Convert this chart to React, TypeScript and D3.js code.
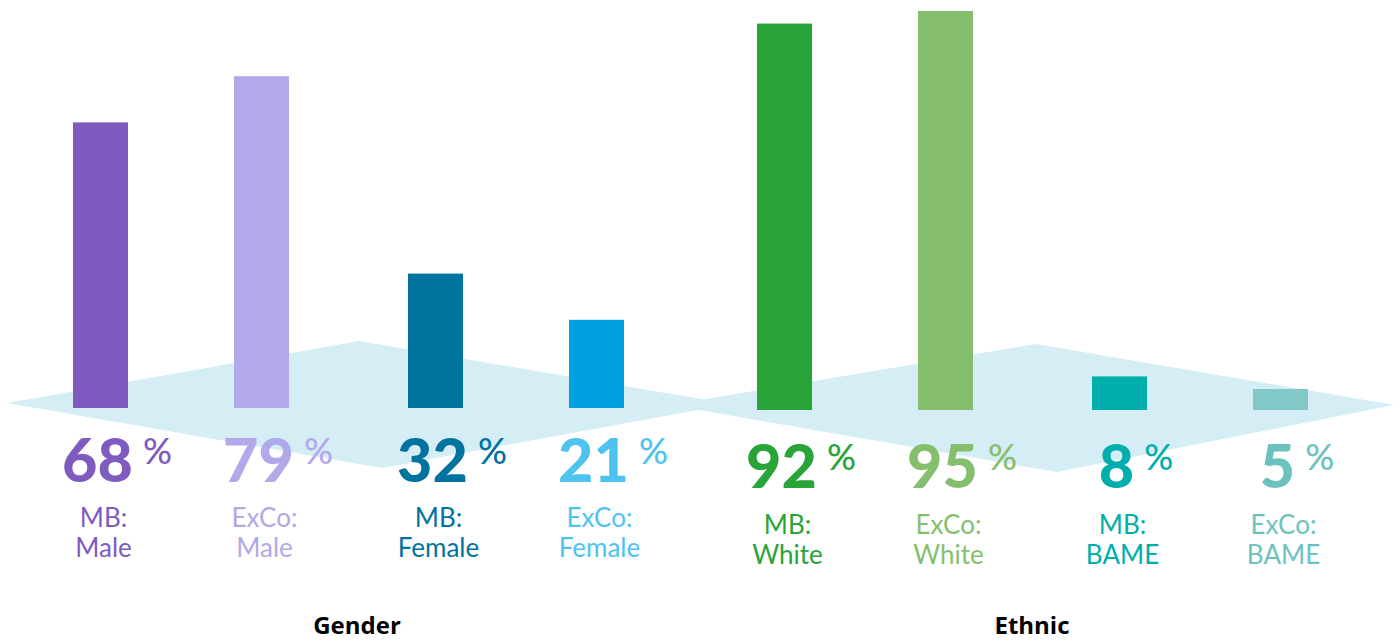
import { useEffect, useRef } from "react";
import * as d3 from "d3";

const groups = ["Gender", "Ethnic"];
const roles = ["MB", "ExCo", "MB", "ExCo", "MB", "ExCo", "MB", "ExCo"];
const subjects = ["Male", "Male", "Female", "Female", "White", "White", "BAME", "BAME"];
const barGroups = ["Gender", "Gender", "Gender", "Gender", "Ethnic", "Ethnic", "Ethnic", "Ethnic"];
const values = [68, 79, 32, 21, 92, 95, 8, 5];
const barColors = ["#805bbf", "#b1a9ea", "#00739f", "#00a1e1", "#28a438", "#85bf6e", "#00aeac", "#82c8c6"];
const textColors = ["#805bbf", "#b1a9ea", "#00739f", "#4ec3ef", "#28a438", "#85bf6e", "#00aeac", "#6cc3be"];

const W = 1400;
const H = 641;

export default function App() {
  const svgRef = useRef<SVGSVGElement>(null);

  useEffect(() => {
    if (!svgRef.current) return;
    const svg = d3.select(svgRef.current);
    svg.selectAll("*").remove();

    const baseline: Record<string, number> = { Gender: 408, Ethnic: 410 };
    const numBase: Record<string, number> = { Gender: 482, Ethnic: 488 };
    const labelBase: Record<string, number> = { Gender: 527, Ethnic: 534 };

    // nested band scales: group -> pair -> role
    const xGroup = d3.scaleBand<string>().domain(groups).range([73, 73 + 684 * 2]);
    const xPair = d3.scaleBand<string>().domain(["a", "b"]).range([0, 670]);
    const xRole = d3.scaleBand<string>().domain(["MB", "ExCo"]).range([0, 322]);
    const barW = 55;

    const yFor = (g: string) =>
      d3.scaleLinear().domain([0, 100]).range([baseline[g], baseline[g] - 420]);

    const data = values.map((v, i) => ({
      v,
      role: roles[i],
      subject: subjects[i],
      group: barGroups[i],
      x:
        (xGroup(barGroups[i]) || 0) +
        (xPair(i % 4 < 2 ? "a" : "b") || 0) +
        (xRole(roles[i]) || 0),
      bar: barColors[i],
      text: textColors[i],
    }));

    // background diamonds
    const diamonds: [number, number][][] = [
      [[7, 403], [359, 341], [730, 404], [382, 468]],
      [[670, 405], [1036, 344], [1394, 405], [1057, 472]],
    ];
    svg
      .append("g")
      .selectAll("path")
      .data(diamonds)
      .join("path")
      .attr("d", (d) => d3.line()(d) + "Z")
      .attr("fill", "#d5edf5");

    // bars
    svg
      .append("g")
      .selectAll("rect")
      .data(data)
      .join("rect")
      .attr("x", (d) => d.x)
      .attr("width", barW)
      .attr("y", (d) => yFor(d.group)(d.v))
      .attr("height", (d) => baseline[d.group] - yFor(d.group)(d.v))
      .attr("fill", (d) => d.bar);

    // value labels
    const labels = svg.append("g").selectAll("g").data(data).join("g");
    labels.each(function (d) {
      const g = d3.select(this);
      const cx = d.x + barW / 2 - 3;
      const num = g
        .append("text")
        .attr("x", cx)
        .attr("y", numBase[d.group])
        .attr("text-anchor", "middle")
        .attr("fill", d.text)
        .style("font-family", "Lato, sans-serif")
        .style("font-weight", "900")
        .style("font-size", "61px")
        .text(String(d.v));
      const w = (num.node() as SVGTextElement).getComputedTextLength();
      g.append("text")
        .attr("x", cx + w / 2 + 10)
        .attr("y", numBase[d.group] - 18)
        .attr("fill", d.text)
        .style("font-family", "Lato, sans-serif")
        .style("font-weight", "500")
        .style("font-size", "36px")
        .text("%");

      const lab = g
        .append("text")
        .attr("text-anchor", "middle")
        .attr("fill", d.text)
        .style("font-family", "Lato, sans-serif")
        .style("font-size", "26px");
      lab.append("tspan").attr("x", cx + 6).attr("y", labelBase[d.group]).text(`${d.role}:`);
      lab.append("tspan").attr("x", cx + 6).attr("y", labelBase[d.group] + 30).text(d.subject);
    });

    // group titles
    const groupCenter: Record<string, number> = { Gender: 357, Ethnic: 1032 };
    svg
      .append("g")
      .selectAll("text")
      .data(groups)
      .join("text")
      .attr("x", (d) => groupCenter[d])
      .attr("y", 634)
      .attr("text-anchor", "middle")
      .attr("fill", "#000")
      .style("font-family", "'Open Sans', sans-serif")
      .style("font-weight", "700")
      .style("font-size", "24px")
      .text((d) => d);
  }, []);

  return (
    <div style={{ position: "absolute", left: 0, top: 0, width: W, height: H, background: "#fff" }}>
      <svg ref={svgRef} width={W} height={H} style={{ display: "block" }} />
    </div>
  );
}
